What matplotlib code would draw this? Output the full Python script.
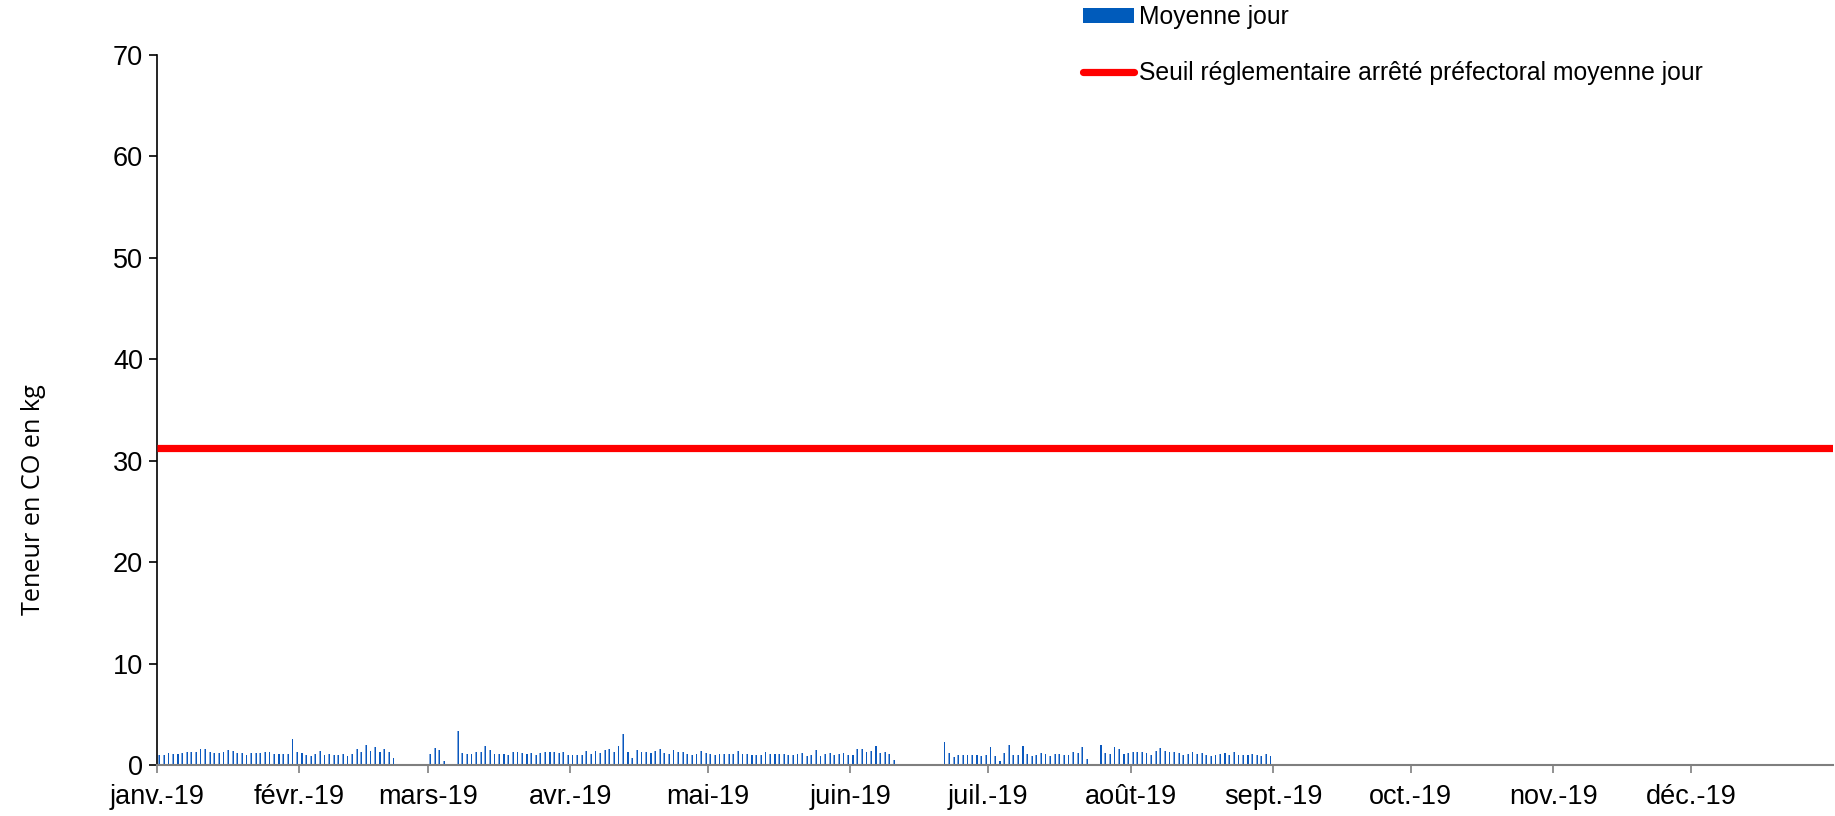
import numpy as np
import matplotlib
matplotlib.use("Agg")
import matplotlib.pyplot as plt
from matplotlib.patches import Patch
from matplotlib.lines import Line2D

nan = np.nan
jan = [0.95,0.95,1.15,1.08,1.05,1.15,1.28,1.28,1.31,1.54,1.54,1.31,1.18,1.18,1.31,1.44,1.34,1.15,1.15,0.98,1.15,1.18,1.21,1.25,1.25,1.08,1.08,1.08,1.05,2.52,1.25]
feb = [1.18,0.95,0.92,1.05,1.34,1.02,1.08,1.02,1.02,1.08,0.92,1.08,1.61,1.25,1.93,1.38,1.77,1.31,1.61,1.31,0.66,nan,nan,nan,nan,nan,nan,nan]
mar = [1.05,1.64,1.44,0.36,nan,nan,3.31,1.18,1.11,1.11,1.25,1.28,1.87,1.51,1.08,1.05,1.08,0.98,1.25,1.25,1.18,1.08,1.15,1.02,1.18,1.25,1.25,1.25,1.18,1.25,0.98]
apr = [0.98,0.98,0.95,1.34,1.05,1.34,1.15,1.44,1.57,1.25,1.84,3.02,1.28,0.72,1.51,1.28,1.28,1.21,1.34,1.57,1.18,1.11,1.51,1.31,1.25,1.11,1.02,1.11,1.34,1.15]
may = [1.08,0.95,1.08,1.08,1.08,1.05,1.41,1.05,1.08,1.02,0.98,0.98,1.31,1.08,1.08,1.08,1.05,0.95,1.02,1.05,1.15,0.92,0.95,1.51,0.89,1.08,1.15,1.02,1.08,1.15,0.95]
jun = [0.98,1.57,1.61,1.31,1.41,1.87,1.18,1.28,1.05,0.49,nan,nan,nan,nan,nan,nan,nan,nan,nan,nan,2.26,1.18,0.75,0.95,0.95,1.02,1.02,1.02,0.92,1.02]
jul = [1.74,0.92,0.36,1.18,1.93,0.98,0.98,1.87,1.08,0.92,0.98,1.15,1.08,0.92,1.08,1.08,1.02,1.02,1.25,1.18,1.80,0.59,nan,nan,1.97,1.18,1.05,1.77,1.57,1.08,1.15]
aug = [1.28,1.28,1.28,1.21,1.02,1.41,1.64,1.34,1.25,1.25,1.15,1.02,1.08,1.28,1.08,1.15,0.98,0.92,0.98,1.08,1.18,1.02,1.25,1.02,1.02,1.02,1.08,0.98,0.92,1.08,0.92]
daily_mean = np.array(jan + feb + mar + apr + may + jun + jul + aug, dtype=float)
threshold = 31.25

month_starts = [0, 31, 59, 90, 120, 151, 181, 212, 243, 273, 304, 334]
month_labels = ["janv.-19", "févr.-19", "mars-19", "avr.-19", "mai-19", "juin-19",
                "juil.-19", "août-19", "sept.-19", "oct.-19", "nov.-19", "déc.-19"]
n_days = 365

plt.rcParams['font.family'] = ['Liberation Sans', 'DejaVu Sans']

fig = plt.figure(figsize=(18.35, 8.16), dpi=100)
ax = fig.add_axes([157/1835, 1-765/816, 1-157/1835 - 0.001, (765-55)/816])

days = np.arange(len(daily_mean)) + 0.5
ax.bar(days - 0.13, daily_mean, width=0.16, color="#7FA7DD", linewidth=0, zorder=2)
ax.bar(days + 0.07, daily_mean, width=0.24, color="#0A58BE", linewidth=0, zorder=2)
ax.plot([0, n_days], [threshold, threshold], color="#FF0000", linewidth=5.2,
        solid_capstyle='butt', zorder=3)

ax.set_xlim(0, n_days)
ax.set_ylim(0, 70)
ax.set_yticks(np.arange(0, 71, 10))
ax.set_xticks(month_starts)
ax.set_xticklabels(month_labels)
ax.tick_params(axis='both', labelsize=19.5, direction='out', length=6, width=1.2)
ax.tick_params(axis='x', color='#7F7F7F', pad=7.5)
ax.tick_params(axis='y', pad=4)
for s in ['top', 'right']:
    ax.spines[s].set_visible(False)
ax.spines['left'].set_linewidth(1.2)
ax.spines['bottom'].set_linewidth(1.5)
ax.spines['bottom'].set_color('#7F7F7F')

fig.text(34/1835, 1-500/816, "Teneur en CO en kg", rotation=90, va='center', ha='center',
         fontsize=18.2, family=['Open Sans', 'DejaVu Sans'])

handles = [Patch(facecolor="#005BBB", edgecolor='none'),
           Line2D([], [], color="#FF0000", linewidth=5.2, solid_capstyle='round')]
fig.legend(handles, ["Moyenne jour", "Seuil réglementaire arrêté préfectoral moyenne jour"],
           loc='upper left', bbox_to_anchor=(1083/1835, 1-5/816), frameon=False,
           fontsize=17.8, handlelength=2.05, handleheight=0.55, handletextpad=0.2,
           labelspacing=1.3, borderpad=0, borderaxespad=0)

fig.savefig("out.png", dpi=100)
